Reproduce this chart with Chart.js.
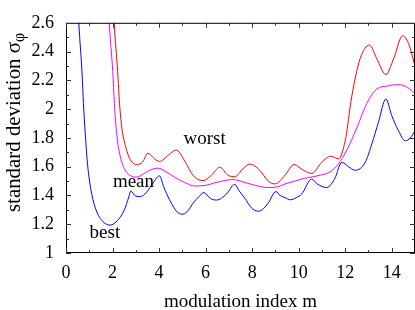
<!DOCTYPE html>
<html><head><meta charset="utf-8">
<script src="https://cdn.jsdelivr.net/npm/chart.js@4"></script>
<style>html,body{margin:0;padding:0;background:#fff}canvas{display:block}</style>
</head><body>
<canvas id="c" width="415" height="310"></canvas>
<script>
// ---- data ----
const mBest = [0.45,0.55,0.69,0.75,0.83,0.93,1.08,1.29,1.58,1.9,2.22,2.51,2.7,2.78,3.0,3.2,3.45,3.66,4.02,4.2,4.45,4.81,5.03,5.25,5.46,5.7,5.93,6.2,6.47,6.9,7.25,7.45,7.69,7.97,8.26,8.5,8.69,9.02,9.2,9.41,9.65,9.9,10.13,10.56,10.8,11.21,11.56,11.85,12.14,12.43,12.86,13.15,13.43,13.75,14.0,14.29,14.58,14.8,15.0];
const best  = [2.95,2.6,2.25,2.04,1.825,1.61,1.433,1.30,1.22,1.194,1.227,1.30,1.39,1.43,1.395,1.392,1.42,1.466,1.536,1.46,1.37,1.28,1.27,1.295,1.346,1.39,1.42,1.38,1.368,1.41,1.477,1.43,1.38,1.314,1.29,1.31,1.346,1.427,1.40,1.385,1.37,1.385,1.41,1.514,1.48,1.455,1.52,1.63,1.60,1.575,1.63,1.76,1.91,2.07,1.955,1.85,1.78,1.80,1.85];

const mMean = [1.76,1.86,2.01,2.08,2.18,2.33,2.51,2.73,3.02,3.37,3.6,3.95,4.3,4.67,5.1,5.53,6.0,6.39,7.18,7.6,7.97,8.69,9.1,9.41,9.84,10.27,10.92,11.35,11.71,12.07,12.5,12.93,13.36,13.79,14.22,14.58,15.0];
const mean  = [2.95,2.6,2.26,2.04,1.825,1.673,1.586,1.542,1.527,1.553,1.575,1.59,1.565,1.527,1.49,1.466,1.47,1.488,1.51,1.495,1.477,1.455,1.46,1.48,1.50,1.52,1.54,1.564,1.62,1.716,1.87,2.04,2.14,2.16,2.17,2.16,2.11];

const mWorst = [1.97,2.07,2.22,2.30,2.40,2.56,2.76,3.06,3.3,3.52,3.8,4.02,4.4,4.74,5.1,5.46,5.89,6.25,6.61,6.97,7.25,7.61,7.9,8.33,8.69,8.98,9.41,9.8,10.2,10.56,10.99,11.38,11.71,12.0,12.28,12.64,13.04,13.36,13.75,14.08,14.47,14.72,15.0];
const worst  = [2.95,2.6,2.26,2.04,1.87,1.74,1.65,1.614,1.635,1.693,1.655,1.636,1.68,1.716,1.64,1.54,1.503,1.54,1.596,1.54,1.53,1.586,1.618,1.575,1.50,1.48,1.54,1.615,1.575,1.553,1.63,1.673,1.655,1.78,2.086,2.35,2.445,2.35,2.24,2.35,2.51,2.457,2.30];

const xTicks = [0,2,4,6,8,10,12,14];
const xMinorTicks = [1,3,5,7,9,11,13];
const yTicks = [1,1.2,1.4,1.6,1.8,2,2.2,2.4,2.6];
const yMinorTicks = [1.1,1.3,1.5,1.7,1.9,2.1,2.3,2.5];

const seriesNames = ['best','mean','worst'];
const labelAnchors = {worst:[5.96,1.757], mean:[2.9,1.457], best:[1.67,1.105]};
const xTitle = 'modulation index m';
const yTitleMain = 'standard deviation σ';
const yTitleSub = 'φ';

const SERIF = '"Liberation Serif", "DejaVu Serif", serif';
const toPts = (xs, ys) => xs.map((x,i)=>({x, y: ys[i]}));

const decor = {
  id:'decor',
  afterDatasetsDraw(chart){
    const {ctx, chartArea:a, scales:{x, y}} = chart;
    ctx.save();
    ctx.strokeStyle = '#000'; ctx.lineWidth = 1;
    ctx.strokeRect(a.left+0.5, a.top+0.5, a.right-a.left-1, a.bottom-a.top-1);
    const tick = (vals, len, horiz) => {
      ctx.beginPath();
      vals.forEach(v=>{
        if(horiz){
          const px = Math.round(x.getPixelForValue(v))+0.5;
          ctx.moveTo(px, a.bottom); ctx.lineTo(px, a.bottom-len);
          ctx.moveTo(px, a.top); ctx.lineTo(px, a.top+len);
        } else {
          const py = Math.round(y.getPixelForValue(v))+0.5;
          ctx.moveTo(a.left, py); ctx.lineTo(a.left+len, py);
          ctx.moveTo(a.right, py); ctx.lineTo(a.right-len, py);
        }
      });
      ctx.stroke();
    };
    ctx.strokeStyle = '#333';
    tick(xTicks, 5, true); tick(xMinorTicks, 3, true);
    tick(yTicks, 5, false); tick(yMinorTicks, 3, false);
    ctx.fillStyle = '#000';
    ctx.font = '19px ' + SERIF;
    ctx.textAlign = 'center'; ctx.textBaseline = 'alphabetic';
    seriesNames.forEach(n=>{
      const [m,v] = labelAnchors[n];
      ctx.fillText(n, x.getPixelForValue(m), y.getPixelForValue(v));
    });
    ctx.fillText(xTitle, (a.left+a.right)/2, 307);
    // y title with subscript, fitted between y=212 (start) and y=33 (end)
    const yStart = 212, yEnd = 33;
    ctx.font = '20px ' + SERIF;
    const w1a = ctx.measureText(yTitleMain).width;
    ctx.font = '15px ' + SERIF;
    const w2a = ctx.measureText(yTitleSub).width;
    const k = (yStart - yEnd) / (w1a + w2a);
    const fMain = 20*k, fSub = 15*k;
    ctx.translate(20, yStart); ctx.rotate(-Math.PI/2);
    ctx.textAlign = 'left';
    ctx.font = fMain.toFixed(2) + 'px ' + SERIF;
    ctx.fillText(yTitleMain, 0, 0);
    ctx.font = fSub.toFixed(2) + 'px ' + SERIF;
    ctx.fillText(yTitleSub, w1a*k, 4);
    ctx.restore();
  }
};

const ds = (label, xs, ys, color) => ({label, data: toPts(xs, ys), borderColor: color, borderWidth: 1,
  pointRadius: 0, fill: false, cubicInterpolationMode: 'monotone'});

new Chart(document.getElementById('c'), {
  type: 'line',
  data: { datasets: [
    ds('best', mBest, best, '#0000ff'),
    ds('mean', mMean, mean, '#ff00ff'),
    ds('worst', mWorst, worst, '#ff0000')
  ]},
  options: {
    responsive: false, animation: false, devicePixelRatio: 1,
    layout: { padding: { left: 0, right: 0, top: 8, bottom: 0 } },
    plugins: { legend: { display: false }, tooltip: { enabled: false } },
    scales: {
      x: { type: 'linear', min: 0, max: 15,
        grid: { display: false, drawTicks: false }, border: { display: false },
        afterBuildTicks: s => { s.ticks = xTicks.map(v => ({ value: v })); },
        afterFit: s => { s.height = 57; },
        ticks: { font: { family: SERIF, size: 18 }, color: '#000', padding: 9, maxRotation: 0, autoSkip: false,
          callback: v => String(v) } },
      y: { type: 'linear', min: 1, max: 2.6,
        grid: { display: false, drawTicks: false }, border: { display: false },
        afterBuildTicks: s => { s.ticks = yTicks.map(v => ({ value: v })); },
        afterFit: s => { s.width = 66; },
        ticks: { font: { family: SERIF, size: 18 }, color: '#000', padding: 12, autoSkip: false,
          callback: v => String(Math.round(v*10)/10) } }
    }
  },
  plugins: [decor]
});
</script>
</body></html>
